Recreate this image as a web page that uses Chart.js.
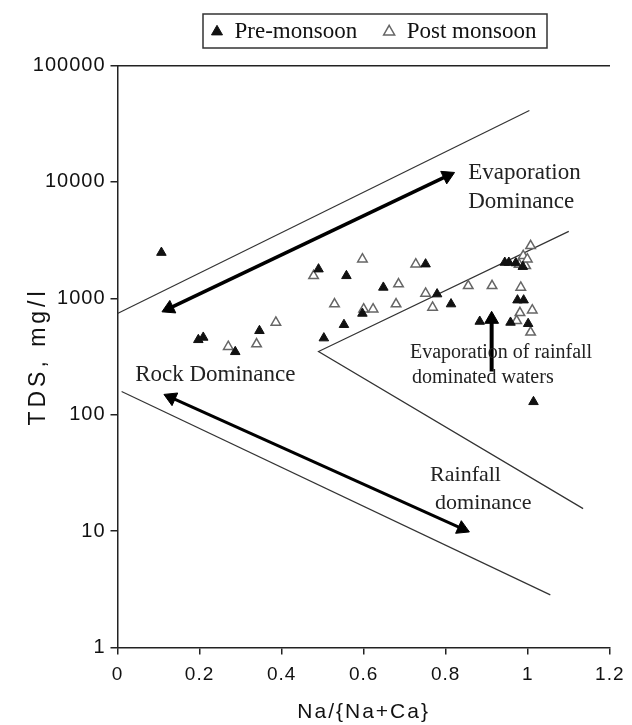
<!DOCTYPE html>
<html>
<head>
<meta charset="utf-8">
<script src="https://cdn.jsdelivr.net/npm/chart.js@4/dist/chart.umd.min.js"></script>
<style>
html,body{margin:0;padding:0;background:#fff;}
#wrap{width:632px;height:725px;}
</style>
</head>
<body>
<div id="wrap"><canvas id="c" width="632" height="725"></canvas></div>
<script>
// ---------------- data ----------------
const seriesNames = ['Pre-monsoon', 'Post monsoon'];

const preX   = [0.107, 0.197, 0.209, 0.287, 0.346, 0.490, 0.558, 0.751, 0.648, 0.597, 0.779, 0.552, 0.503, 0.813, 0.944, 0.954, 0.971, 0.988, 0.975, 0.990, 0.883, 0.958, 1.001, 1.014];
const preTDS = [2470,  440,   461,   347,   526,   1780,  1560,  1965,  1240,  741,   1087,  593,   455,   892,   2030,  2030,  2010,  1870,  964,   964,   632,   620,   605,   129];

const postX   = [0.270, 0.339, 0.386, 0.597, 0.478, 0.727, 0.685, 0.529, 0.600, 0.623, 0.679, 0.751, 0.768, 0.855, 0.913, 1.007, 0.989, 0.995, 0.979, 0.999, 0.983, 0.981, 1.011, 0.973, 1.007];
const postTDS = [384,   404,   620,   2170,  1560,  1965,  1325,  892,   807,   807,   892,   1100,  834,   1280,  1280,  2825,  2317,  1900,  1955,  2170,  1240,  750,   791,   640,   510];

const xTicks = [0, 0.2, 0.4, 0.6, 0.8, 1, 1.2];
const yTicks = [1, 10, 100, 1000, 10000, 100000];

// Gibbs diagram boundary lines
const upperBoundX = [0, 1.004];
const upperBoundY = [740, 41000];
const lowerBoundX = [0.01, 1.055];
const lowerBoundY = [158, 2.83];
const innerVX = [1.10, 0.49, 1.135];
const innerVY = [3760, 349, 15.6];

// arrows (arrow-head centres)
const evapArrowX = [0.126, 0.804];
const evapArrowY = [819, 11260];
const rockArrowX = [0.131, 0.840];
const rockArrowY = [140, 10.5];
const rainArrowX = [0.912, 0.912];
const rainArrowY = [235, 660];

// text annotations (data coordinates)
const notes = [
  {text: 'Evaporation', x: 0.855, y: 12000, size: 23},
  {text: 'Dominance', x: 0.855, y: 6780, size: 23},
  {text: 'Rock Dominance', x: 0.043, y: 220, size: 23},
  {text: 'Evaporation of rainfall', x: 0.713, y: 341, size: 20},
  {text: 'dominated waters', x: 0.718, y: 208, size: 20},
  {text: 'Rainfall', x: 0.762, y: 30.4, size: 22},
  {text: 'dominance', x: 0.774, y: 17.5, size: 22}
];

// ---------------- helpers ----------------
const pts = (xs, ys) => xs.map((x, i) => ({x: x, y: ys[i]}));

function headRotation(ctx) {
  if (ctx.dataIndex === undefined) return 0;
  const d = ctx.dataset.data;
  const i = ctx.dataIndex;
  const j = i === 0 ? 1 : i - 1;
  const sx = ctx.chart.scales.x, sy = ctx.chart.scales.y;
  const dx = sx.getPixelForValue(d[i].x) - sx.getPixelForValue(d[j].x);
  const dy = sy.getPixelForValue(d[i].y) - sy.getPixelForValue(d[j].y);
  return Math.atan2(dx, -dy) * 180 / Math.PI;
}

function lineDs(data, width, color) {
  return {data: data, showLine: true, borderColor: color, borderWidth: width,
          pointRadius: 0, pointHoverRadius: 0, fill: false};
}
function arrowDs(data, width, radii) {
  return {data: data, showLine: true, borderColor: '#000', borderWidth: width,
          pointStyle: 'triangle', pointRadius: radii, pointHoverRadius: radii,
          pointBackgroundColor: '#000', pointBorderColor: '#000', pointBorderWidth: 1,
          pointRotation: headRotation, fill: false};
}

function withSpacing(scale, method, spacing) {
  const orig = scale[method];
  scale[method] = function () {
    const c = this.ctx;
    const prev = c.letterSpacing;
    c.letterSpacing = spacing;
    try { return orig.apply(this, arguments); }
    finally { c.letterSpacing = prev; }
  };
}

const layoutPlugin = {
  id: 'layoutTweaks',
  afterLayout(chart) {
    const lg = chart.legend;
    const pad = lg.options.labels.padding;
    const h = lg.height;
    lg.top = 20.2 - pad;
    lg.bottom = lg.top + h;
    lg.left = 211 - pad;
    lg.right = 632;
    lg.width = lg.right - lg.left;
    const sx = chart.scales.x, sy = chart.scales.y;
    if (!sy._patched) {
      withSpacing(sy, 'drawLabels', '1px');
      withSpacing(sy, 'drawTitle', '4px');
      sy._patched = true;
    }
    if (!sx._patched) {
      withSpacing(sx, 'drawLabels', '1px');
      withSpacing(sx, 'drawTitle', '2px');
      sx._patched = true;
    }
  },
  afterDatasetsDraw(chart) {
    const c = chart.ctx;
    const sx = chart.scales.x, sy = chart.scales.y;
    c.save();
    c.fillStyle = '#222';
    c.textAlign = 'left';
    c.textBaseline = 'middle';
    notes.forEach(n => {
      c.font = n.size + 'px "Liberation Serif"';
      c.fillText(n.text, sx.getPixelForValue(n.x), sy.getPixelForValue(n.y));
    });
    c.restore();
  },
  afterDraw(chart) {
    const c = chart.ctx;
    c.save();
    c.strokeStyle = '#333';
    c.lineWidth = 1.5;
    c.strokeRect(203, 14, 344, 34);
    c.restore();
  }
};

Chart.defaults.font.family = '"Liberation Sans", Arial, sans-serif';
Chart.defaults.color = '#111';

new Chart(document.getElementById('c'), {
  type: 'scatter',
  data: {
    datasets: [
      {label: seriesNames[0], data: pts(preX, preTDS), pointStyle: 'triangle',
       pointRadius: 5.5, pointHoverRadius: 5.5, backgroundColor: '#111', borderColor: '#111', borderWidth: 1},
      {label: seriesNames[1], data: pts(postX, postTDS), pointStyle: 'triangle',
       pointRadius: 5.5, pointHoverRadius: 5.5, backgroundColor: '#fff', borderColor: '#666', borderWidth: 1.5},
      lineDs(pts(upperBoundX, upperBoundY), 1.2, '#333'),
      lineDs(pts(lowerBoundX, lowerBoundY), 1.2, '#333'),
      lineDs(pts(innerVX, innerVY), 1.2, '#333'),
      arrowDs(pts(evapArrowX, evapArrowY), 3.5, [8, 8]),
      arrowDs(pts(rockArrowX, rockArrowY), 3, [8, 8]),
      arrowDs(pts(rainArrowX, rainArrowY), 4, [0, 8])
    ]
  },
  options: {
    responsive: false,
    animation: false,
    events: [],
    layout: {padding: {top: 6.5, right: 22, bottom: 0, left: 0}},
    plugins: {
      tooltip: {enabled: false},
      legend: {
        display: true,
        position: 'top',
        align: 'start',
        labels: {
          filter: item => item.datasetIndex < 2,
          usePointStyle: true,
          boxWidth: 12,
          boxHeight: 9,
          padding: 26,
          color: '#111',
          font: {family: '"Liberation Serif", serif', size: 23}
        }
      }
    },
    scales: {
      x: {
        type: 'linear', position: 'bottom', min: 0, max: 1.2,
        afterBuildTicks: s => { s.ticks = xTicks.map(v => ({value: v})); },
        afterFit: s => { s.height = 77.5; },
        grid: {display: true, drawOnChartArea: false, drawTicks: true, tickLength: 7, color: '#222', lineWidth: 1.5},
        border: {display: true, color: '#222', width: 1.5},
        ticks: {autoSkip: false, maxRotation: 0, padding: 9, color: '#111',
                font: {size: 19}, callback: v => String(Number(v.toFixed(1)))},
        title: {display: true, text: 'Na/{Na+Ca}', color: '#111',
                font: {size: 21}, padding: {top: 0, bottom: 0}}
      },
      x2: {
        type: 'linear', position: 'top', min: 0, max: 1.2, display: true,
        afterFit: s => { s.height = 0; },
        grid: {display: false, drawTicks: false},
        border: {display: true, color: '#222', width: 1.5},
        ticks: {display: false}
      },
      y: {
        type: 'logarithmic', position: 'left', min: 1, max: 100000,
        afterBuildTicks: s => { s.ticks = yTicks.map(v => ({value: v})); },
        afterFit: s => { s.width = 117.5; },
        grid: {display: true, drawOnChartArea: false, drawTicks: true, tickLength: 7, color: '#222', lineWidth: 1.5},
        border: {display: true, color: '#222', width: 1.5},
        ticks: {autoSkip: false, padding: 5, color: '#111', font: {size: 20},
                callback: v => String(v)},
        title: {display: true, text: 'TDS, mg/l', color: '#111',
                font: {size: 23}, padding: {top: 25, bottom: 0}}
      }
    }
  },
  plugins: [layoutPlugin]
});
</script>
</body>
</html>
